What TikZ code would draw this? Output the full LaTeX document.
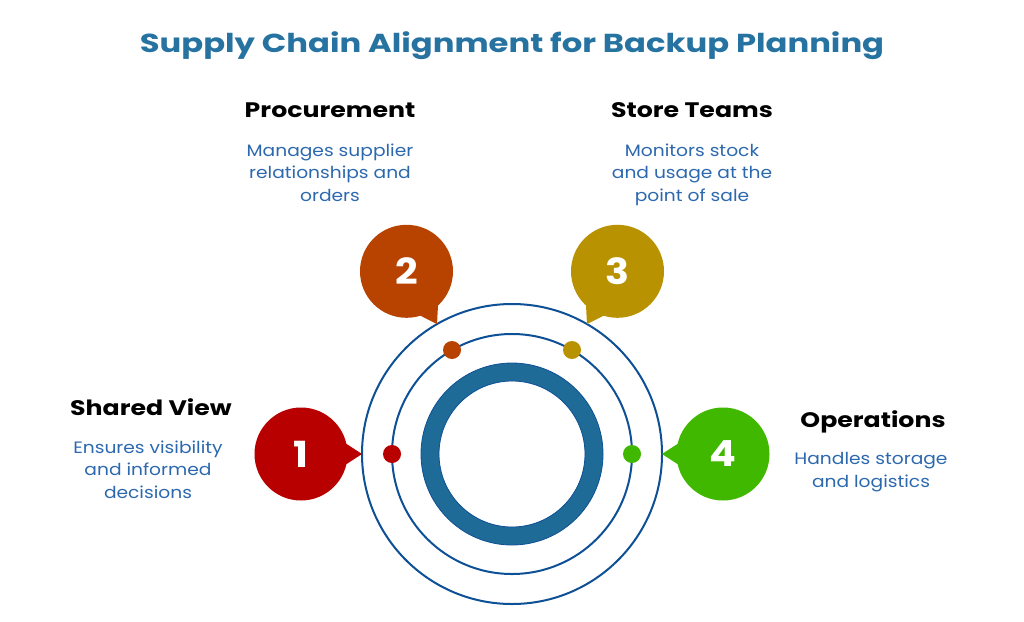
\documentclass[tikz,border=0pt]{standalone}
\usepackage{fontspec}
\usepackage{graphicx}
\setmainfont{Poppins}
\newfontfamily\titlefont{Poppins}[FakeStretch=1.24]
\newfontfamily\headfont{Poppins}[FakeStretch=1.2]
\newfontfamily\descfont{Poppins}[FakeStretch=1.13]
\newfontfamily\numfont{Poppins}[FakeStretch=1.1]
\usetikzlibrary{calc}
\definecolor{titleblue}{RGB}{38,114,160}
\definecolor{descblue}{RGB}{44,104,174}
\definecolor{lineblue}{RGB}{14,80,150}
\definecolor{ringfill}{RGB}{31,107,151}
\definecolor{cred}{RGB}{184,0,0}
\definecolor{corange}{RGB}{184,67,0}
\definecolor{cgold}{RGB}{184,146,0}
\definecolor{cgreen}{RGB}{65,184,0}
\tikzset{
  bubble/.style={circle, minimum size=93pt, inner sep=0pt, text=white, font=\numfont\fontsize{36}{36}\selectfont\bfseries},
  dot/.style={circle, minimum size=18pt, inner sep=0pt},
  heading/.style={font=\headfont\fontsize{21}{24}\selectfont\bfseries, text=black, anchor=base},
  desc/.style={font=\descfont\fontsize{16.5}{22.5}\selectfont, text=descblue, align=center, anchor=base},
}
\begin{document}
\begin{tikzpicture}[x=1pt,y=-1pt]
\useasboundingbox (0,0) rectangle (1024,621);
\coordinate (O) at (512,454);
% circles
\draw[lineblue, line width=2pt] (O) circle[radius=150pt];
\draw[lineblue, line width=2pt] (O) circle[radius=120pt];
\draw[ringfill, line width=18pt] (O) circle[radius=82pt];
\draw[lineblue, line width=0.8pt] (O) circle[radius=91pt];
\draw[lineblue, line width=0.8pt] (O) circle[radius=73pt];
% dots
\node[dot, fill=cred] (d1) at (392,454) {};
\node[dot, fill=corange] (d2) at (452,350) {};
\node[dot, fill=cgold] (d3) at (572,350) {};
\node[dot, fill=cgreen] (d4) at (632,454) {};
% bubbles
\foreach \n/\c/\x/\y in {1/cred/301/454, 2/corange/406.5/271.3, 3/cgold/617.5/271.3, 4/cgreen/723/454}{
  \fill[\c] ($(\x,\y)!38pt!28:(O)$) -- ($(\x,\y)!61pt!(O)$) -- ($(\x,\y)!38pt!-28:(O)$) -- cycle;
  \node[bubble, fill=\c] (b\n) at (\x,\y) {\n};
}
% title
\node[font=\titlefont\fontsize{26}{30}\selectfont\bfseries, text=titleblue, anchor=base] (title) at (512,52) {Supply Chain Alignment for Backup Planning};
% headings
\node[heading] (h2) at (330,117) {Procurement};
\node[heading] (h3) at (692,117) {Store Teams};
\node[heading] (h1) at (151,415) {Shared View};
\node[heading] (h4) at (873,427) {Operations};
% descriptions (base = last line)
\node[desc] (t2) at (330,201) {Manages supplier\\relationships and\\orders};
\node[desc] (t3) at (692,201) {Monitors stock\\and usage at the\\point of sale};
\node[desc] (t1) at (148,498) {Ensures visibility\\and informed\\decisions};
\node[desc] (t4) at (871,487) {Handles storage\\and logistics};
\end{tikzpicture}
\end{document}
